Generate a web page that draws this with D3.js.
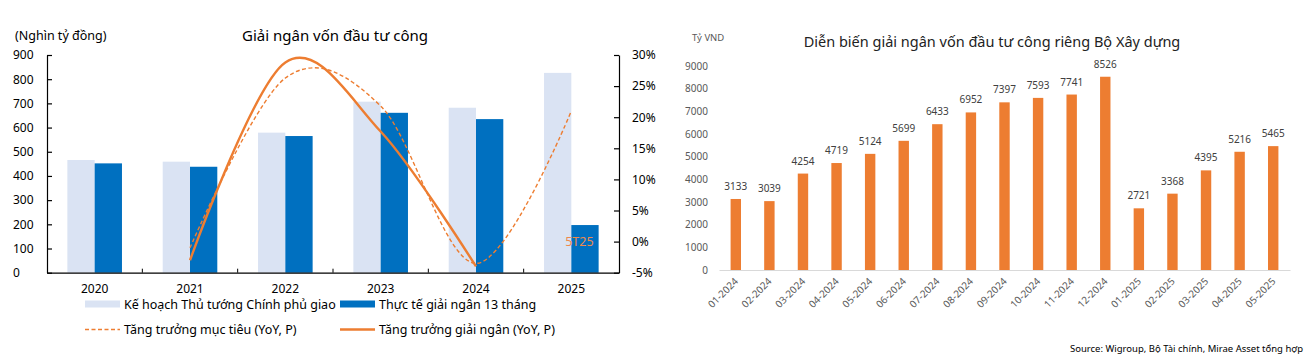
<!DOCTYPE html>
<html><head><meta charset="utf-8">
<script src="https://cdn.jsdelivr.net/npm/d3@7"></script>
<style>
html,body{margin:0;padding:0;background:#fff;}
svg{display:block;}
text{font-family:"Noto Sans","Open Sans",sans-serif;}
</style></head>
<body>
<svg id="c" width="1312" height="356"></svg>
<script>
// ---- Left chart data ----
const years = ["2020","2021","2022","2023","2024","2025"];
const planValues = [466, 459, 579, 707, 682, 826];
const actualValues = [452, 438, 565, 661, 635, 197];
const targetGrowthYears = ["2021","2022","2023","2024","2025"];
const targetGrowth = [-1.0, 26.3, 21.8, -3.5, 21.0];
const actualGrowthYears = ["2021","2022","2023","2024"];
const actualGrowth = [-3.0, 28.8, 17.7, -4.0];
const leftTicks = [0,100,200,300,400,500,600,700,800,900];
const rightTicks = [-5,0,5,10,15,20,25,30];

// ---- Right chart data ----
const months = ["01-2024","02-2024","03-2024","04-2024","05-2024","06-2024","07-2024","08-2024","09-2024","10-2024","11-2024","12-2024","01-2025","02-2025","03-2025","04-2025","05-2025"];
const mocValues = [3133,3039,4254,4719,5124,5699,6433,6952,7397,7593,7741,8526,2721,3368,4395,5216,5465];
const mocTicks = [0,1000,2000,3000,4000,5000,6000,7000,8000,9000];

const LIGHT = "#DAE3F3", DARK = "#0070C0", ORANGE = "#ED7D31";
const svg = d3.select("#c");

// ================= LEFT CHART =================
const L = {x0:47, x1:619, yTop:55, yBot:272.7};
const xL = d3.scaleBand().domain(years).range([L.x0, L.x1]).padding(0);
const xSub = d3.scaleBand().domain(["plan","actual"]).range([0, xL.bandwidth()]).paddingInner(0).paddingOuter(0.746);
const yL = d3.scaleLinear().domain([0,900]).range([L.yBot, L.yTop]);
const yR = d3.scaleLinear().domain([-5,30]).range([L.yBot, L.yTop]);

const gL = svg.append("g");
const bars = years.map((y,i)=>({y, plan:planValues[i], actual:actualValues[i]}));
gL.selectAll("rect.plan").data(bars).enter().append("rect")
  .attr("x", d=>xL(d.y)+xSub("plan")).attr("width", xSub.bandwidth())
  .attr("y", d=>yL(d.plan)).attr("height", d=>yL(0)-yL(d.plan)).attr("fill", LIGHT);
gL.selectAll("rect.act").data(bars).enter().append("rect")
  .attr("x", d=>xL(d.y)+xSub("actual")).attr("width", xSub.bandwidth())
  .attr("y", d=>yL(d.actual)).attr("height", d=>yL(0)-yL(d.actual)).attr("fill", DARK);

const cx = y => xL(y)+xL.bandwidth()/2;
const line = d3.line().x(d=>cx(d[0])).y(d=>yR(d[1])).curve(d3.curveCardinal.tension(0));
gL.append("path").datum(targetGrowthYears.map((y,i)=>[y,targetGrowth[i]]))
  .attr("d", line).attr("fill","none").attr("stroke",ORANGE).attr("stroke-width",1.4).attr("stroke-dasharray","4,2.5");
gL.append("path").datum(actualGrowthYears.map((y,i)=>[y,actualGrowth[i]]))
  .attr("d", line).attr("fill","none").attr("stroke",ORANGE).attr("stroke-width",2.4);

const axL = gL.append("g").attr("transform",`translate(${L.x0},0)`)
  .call(d3.axisLeft(yL).tickValues(leftTicks).tickSizeInner(-5).tickSizeOuter(0).tickPadding(14));
axL.selectAll("text").attr("text-anchor","start").attr("x",-34).attr("font-size","12px").attr("fill","#000");
const axR = gL.append("g").attr("transform",`translate(${L.x1},0)`)
  .call(d3.axisRight(yR).tickValues(rightTicks).tickSizeInner(-5).tickSizeOuter(0).tickFormat(d=>d+"%"));
axR.selectAll("text").attr("x",13).attr("font-size","12px").attr("fill","#000");
const axB = gL.append("g").attr("transform",`translate(0,${L.yBot})`)
  .call(d3.axisBottom(xL).tickSize(0).tickSizeOuter(0).tickPadding(13));
axB.selectAll("text").attr("font-size","12px").attr("fill","#000").attr("dy","0.6em");
gL.selectAll("line.bt").data(years.slice(1)).enter().append("line")
  .attr("x1",d=>xL(d)).attr("x2",d=>xL(d)).attr("y1",L.yBot).attr("y2",L.yBot-4).attr("stroke","#000");
[axL,axR,axB].forEach(a=>{a.selectAll("path,line").attr("stroke","#000").attr("stroke-width",1.2);});

gL.append("text").attr("x",15).attr("y",40).attr("font-size","12.5px").text("(Nghìn tỷ đồng)");
gL.append("text").attr("x",335).attr("y",41).attr("text-anchor","middle").attr("font-size","15px").text("Giải ngân vốn đầu tư công");
gL.append("text").attr("x",cx("2025")+8).attr("y",246).attr("text-anchor","middle").attr("font-size","12.5px").attr("fill","#EE8A4C").text("5T25");

const lg = gL.append("g").attr("font-size","12.5px");
lg.append("rect").attr("x",85).attr("y",300.5).attr("width",35).attr("height",7).attr("fill",LIGHT);
lg.append("text").attr("x",124).attr("y",308.5).text("Kế hoạch Thủ tướng Chính phủ giao");
lg.append("rect").attr("x",340).attr("y",300.5).attr("width",35).attr("height",7).attr("fill",DARK);
lg.append("text").attr("x",379).attr("y",308.5).text("Thực tế giải ngân 13 tháng");
lg.append("line").attr("x1",85).attr("x2",120).attr("y1",329.5).attr("y2",329.5).attr("stroke",ORANGE).attr("stroke-width",1.4).attr("stroke-dasharray","4,2.5");
lg.append("text").attr("x",124).attr("y",334).text("Tăng trưởng mục tiêu (YoY, P)");
lg.append("line").attr("x1",340).attr("x2",375).attr("y1",329.5).attr("y2",329.5).attr("stroke",ORANGE).attr("stroke-width",2.4);
lg.append("text").attr("x",379).attr("y",334).text("Tăng trưởng giải ngân (YoY, P)");

// ================= RIGHT CHART =================
const R = {x0:719, x1:1290, yTop:66, yBot:270};
const xM = d3.scaleBand().domain(months).range([R.x0,R.x1]).paddingInner(0.69).paddingOuter(0.345);
const yM = d3.scaleLinear().domain([0,9000]).range([R.yBot,R.yTop]);
const gR = svg.append("g");
const md = months.map((m,i)=>({m, v:mocValues[i]}));
gR.selectAll("rect").data(md).enter().append("rect")
  .attr("x",d=>xM(d.m)).attr("width",xM.bandwidth())
  .attr("y",d=>yM(d.v)).attr("height",d=>yM(0)-yM(d.v)).attr("fill",ORANGE);
gR.selectAll("text.v").data(md).enter().append("text")
  .attr("x",d=>xM(d.m)+xM.bandwidth()/2).attr("y",d=>yM(d.v)-9)
  .attr("text-anchor","middle").attr("font-size","10px").attr("fill","#404040").text(d=>d.v);
const ayM = gR.append("g").attr("transform",`translate(${R.x0-11},0)`)
  .call(d3.axisLeft(yM).tickValues(mocTicks).tickSize(0).tickPadding(0).tickFormat(d3.format("d")));
ayM.select("path").remove();
ayM.selectAll("text").attr("font-size","10px").attr("fill","#595959");
const axM = gR.append("g").attr("transform",`translate(0,${R.yBot})`)
  .call(d3.axisBottom(xM).tickSize(0).tickSizeOuter(0).tickPadding(0));
axM.select("path").attr("stroke","#D9D9D9").attr("stroke-width",1.2);
axM.selectAll("text").attr("font-size","10px").attr("fill","#595959")
  .attr("text-anchor","end").attr("dy","0").attr("y",0)
  .attr("transform","translate(3,12) rotate(-45)");
gR.append("text").attr("x",692).attr("y",41).attr("font-size","9.5px").attr("fill","#595959").text("Tỷ VND");
gR.append("text").attr("x",992).attr("y",47).attr("text-anchor","middle").attr("font-size","14.5px").attr("fill","#222").text("Diễn biến giải ngân vốn đầu tư công riêng Bộ Xây dựng");
gR.append("text").attr("x",1303).attr("y",352).attr("text-anchor","end").attr("font-size","9.5px")
  .attr("font-family","'Liberation Sans',Arial,sans-serif").attr("fill","#000").text("Source: Wigroup, Bộ Tài chính, Mirae Asset tổng hợp");
</script>
</body></html>
